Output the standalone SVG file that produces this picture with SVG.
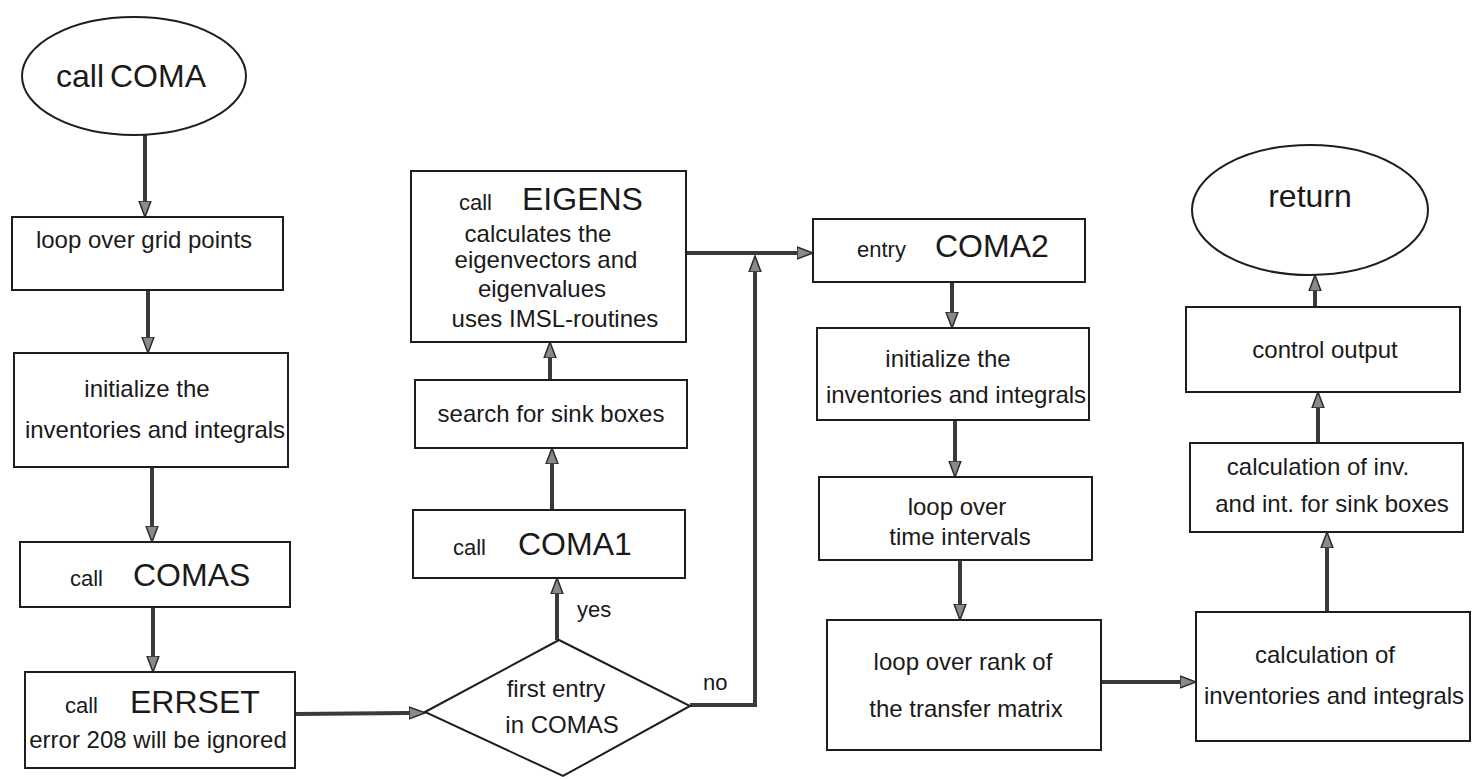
<svg xmlns="http://www.w3.org/2000/svg" width="1472" height="779" viewBox="0 0 1472 779">
<style>
.box{fill:#fff;stroke:#1e1e1e;stroke-width:2}
.t{font-family:"Liberation Sans",Arial,sans-serif;fill:#1a1a1a;font-size:24px;text-anchor:middle}
.s{font-family:"Liberation Sans",Arial,sans-serif;fill:#1a1a1a;font-size:22px}
.b{font-family:"Liberation Sans",Arial,sans-serif;fill:#1a1a1a;font-size:32px}
.c{fill:none;stroke:#3a3a3a;stroke-width:4;marker-end:url(#ah)}
</style>
<defs>
<marker id="ah" markerUnits="userSpaceOnUse" markerWidth="18" markerHeight="14" viewBox="0 0 18 14" refX="0" refY="7" orient="auto">
<path d="M0,1 L16,7 L0,13 z" fill="#8a8a8a" stroke="#2a2a2a" stroke-width="1.5"/>
</marker>
</defs>
<rect width="1472" height="779" fill="#fff"/>
<g id="connectors">
<line class="c" x1="145" y1="135" x2="145" y2="201"/>
<line class="c" x1="148" y1="290" x2="148" y2="337"/>
<line class="c" x1="152" y1="467" x2="152" y2="526"/>
<line class="c" x1="153" y1="607" x2="153" y2="656"/>
<line class="c" x1="295" y1="714" x2="409" y2="713"/>
<line class="c" x1="557" y1="640" x2="557" y2="594"/>
<line class="c" x1="552" y1="510" x2="552" y2="464"/>
<line class="c" x1="550" y1="380" x2="550" y2="358"/>
<line class="c" x1="686" y1="253" x2="797" y2="253"/>
<polyline class="c" points="690,705 755,705 755,272"/>
<line class="c" x1="952" y1="282" x2="952" y2="312"/>
<line class="c" x1="955" y1="420" x2="955" y2="461"/>
<line class="c" x1="960" y1="560" x2="960" y2="604"/>
<line class="c" x1="1101" y1="682" x2="1180" y2="682"/>
<line class="c" x1="1327" y1="612" x2="1327" y2="548"/>
<line class="c" x1="1318" y1="443" x2="1318" y2="408"/>
<line class="c" x1="1315" y1="307" x2="1315" y2="291"/>
</g>
<g id="start">
<ellipse class="box" cx="134" cy="76" rx="112" ry="59"/>
<text class="b" x="56" y="87" font-size="30">call</text>
<text class="b" x="110" y="87" font-size="34">COMA</text>
</g>
<g id="loop-grid">
<rect class="box" x="12" y="217" width="271" height="73"/>
<text class="t" x="144" y="248">loop over grid points</text>
</g>
<g id="init1">
<rect class="box" x="14" y="353" width="274" height="114"/>
<text class="t" x="147" y="397">initialize the</text>
<text class="t" x="155" y="438" font-size="23">inventories and integrals</text>
</g>
<g id="comas">
<rect class="box" x="20" y="542" width="270" height="65"/>
<text class="s" x="70" y="586">call</text>
<text class="b" x="133" y="586">COMAS</text>
</g>
<g id="errset">
<rect class="box" x="25" y="672" width="270" height="96"/>
<text class="s" x="65" y="713">call</text>
<text class="b" x="130" y="713" font-size="30">ERRSET</text>
<text class="t" x="158" y="748">error 208 will be ignored</text>
</g>
<g id="decision">
<polygon class="box" points="425,712 559,640 690,706 563,776"/>
<text class="t" x="556" y="697" font-size="23">first entry</text>
<text class="t" x="562" y="733" font-size="23">in COMAS</text>
<text class="s" x="577" y="617">yes</text>
<text class="s" x="703" y="690">no</text>
</g>
<g id="coma1">
<rect class="box" x="413" y="510" width="272" height="68"/>
<text class="s" x="453" y="555">call</text>
<text class="b" x="518" y="555" font-size="31">COMA1</text>
</g>
<g id="search">
<rect class="box" x="415" y="380" width="272" height="68"/>
<text class="t" x="551" y="422">search for sink boxes</text>
</g>
<g id="eigens">
<rect class="box" x="411" y="171" width="275" height="171"/>
<text class="s" x="459" y="210">call</text>
<text class="b" x="522" y="210" font-size="30">EIGENS</text>
<text class="t" x="538" y="242">calculates the</text>
<text class="t" x="546" y="268">eigenvectors and</text>
<text class="t" x="542" y="297">eigenvalues</text>
<text class="t" x="555" y="327">uses IMSL-routines</text>
</g>
<g id="coma2">
<rect class="box" x="813" y="219" width="272" height="63"/>
<text class="s" x="857" y="257">entry</text>
<text class="b" x="935" y="257">COMA2</text>
</g>
<g id="init2">
<rect class="box" x="817" y="328" width="272" height="92"/>
<text class="t" x="948" y="367">initialize the</text>
<text class="t" x="956" y="403" font-size="23">inventories and integrals</text>
</g>
<g id="loop-time">
<rect class="box" x="819" y="477" width="273" height="83"/>
<text class="t" x="957" y="515">loop over</text>
<text class="t" x="960" y="545">time intervals</text>
</g>
<g id="loop-rank">
<rect class="box" x="827" y="620" width="274" height="130"/>
<text class="t" x="963" y="670">loop over rank of</text>
<text class="t" x="966" y="717">the transfer matrix</text>
</g>
<g id="calc">
<rect class="box" x="1196" y="612" width="274" height="129"/>
<text class="t" x="1325" y="663">calculation of</text>
<text class="t" x="1334" y="704">inventories and integrals</text>
</g>
<g id="sink">
<rect class="box" x="1190" y="443" width="273" height="89"/>
<text class="t" x="1318" y="475">calculation of inv.</text>
<text class="t" x="1332" y="512">and int. for sink boxes</text>
</g>
<g id="control">
<rect class="box" x="1186" y="307" width="274" height="85"/>
<text class="t" x="1325" y="358" font-size="23">control output</text>
</g>
<g id="return">
<ellipse class="box" cx="1310" cy="210" rx="118" ry="65"/>
<text class="b" x="1310" y="207" text-anchor="middle">return</text>
</g>
</svg>
